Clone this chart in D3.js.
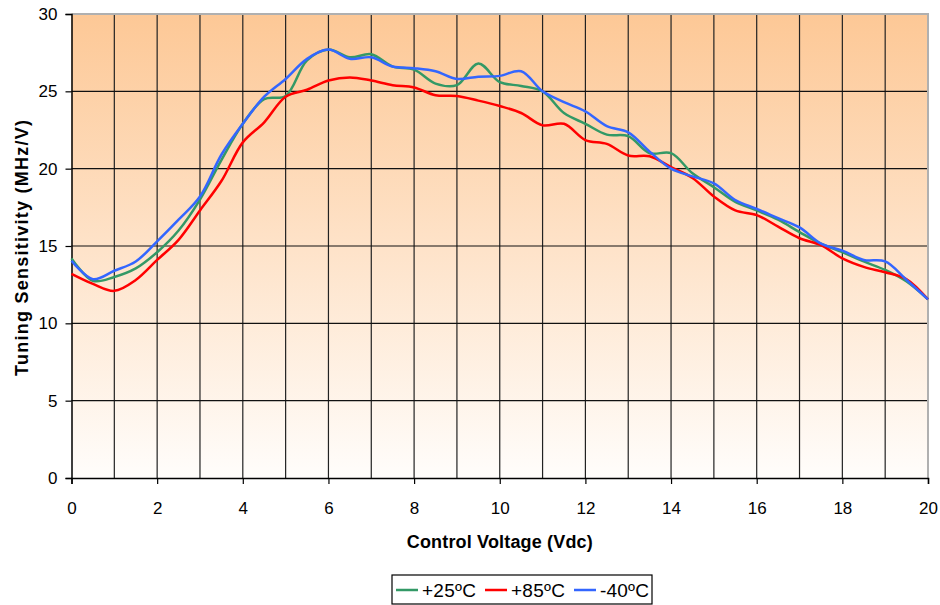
<!DOCTYPE html>
<html>
<head>
<meta charset="utf-8">
<script src="https://cdn.jsdelivr.net/npm/d3@7"></script>
<style>
  body { margin: 0; background: #fff; }
  svg { font-family: "Liberation Sans", Arial, sans-serif; }
</style>
</head>
<body>
<svg id="svg" width="940" height="605"></svg>
<script>
// control voltage (Vdc)
var voltage = [0, 0.5, 1, 1.5, 2, 2.5, 3, 3.5, 4, 4.5, 5, 5.5, 6, 6.5, 7, 7.5, 8, 8.5, 9, 9.5,
  10, 10.5, 11, 11.5, 12, 12.5, 13, 13.5, 14, 14.5, 15, 15.5, 16, 16.5, 17, 17.5, 18, 18.5, 19, 19.5, 20];

// tuning sensitivity (MHz/V) per temperature
var t25 = [14.2, 12.75, 13.0, 13.55, 14.6, 16.0, 18.0, 20.55, 22.9, 24.5, 24.7, 27.0, 27.7, 27.2, 27.4, 26.6, 26.4, 25.5, 25.4, 26.8,
  25.6, 25.35, 25.0, 23.6, 22.9, 22.2, 22.1, 21.0, 21.0, 19.7, 18.8, 17.85, 17.3, 16.7, 15.9, 15.15, 14.6, 14.0, 13.45, 12.7, 11.55];
var t85 = [13.2, 12.55, 12.1, 12.8, 14.1, 15.4, 17.3, 19.2, 21.7, 23.0, 24.65, 25.1, 25.7, 25.9, 25.7, 25.4, 25.25, 24.75, 24.7, 24.4,
  24.05, 23.6, 22.8, 22.9, 21.85, 21.6, 20.85, 20.8, 20.1, 19.4, 18.2, 17.3, 17.0, 16.25, 15.5, 15.05, 14.2, 13.65, 13.3, 12.85, 11.55];
var tm40 = [14.05, 12.85, 13.4, 14.0, 15.3, 16.7, 18.2, 20.9, 22.9, 24.65, 25.8, 27.1, 27.7, 27.1, 27.2, 26.6, 26.5, 26.3, 25.8, 25.95,
  26.0, 26.3, 25.0, 24.3, 23.7, 22.75, 22.35, 21.1, 20.0, 19.5, 19.05, 17.97, 17.4, 16.8, 16.2, 15.15, 14.7, 14.1, 14.0, 12.8, 11.55];

var seriesNames = ["+25ºC", "+85ºC", "-40ºC"];
var seriesColors = ["#339966", "#ff0000", "#3366ff"];
var xTicks = [0, 2, 4, 6, 8, 10, 12, 14, 16, 18, 20];
var yTicks = [0, 5, 10, 15, 20, 25, 30];

var svg = d3.select("#svg"),
  margin = {top: 14, right: 12, bottom: 127, left: 71.5},
  width = 940 - margin.left - margin.right,
  height = 605 - margin.top - margin.bottom;

var x = d3.scaleLinear().domain([0, 20]).range([0, width]);
var y = d3.scaleLinear().domain([0, 30]).range([height, 0]);

var defs = svg.append("defs");
var grad = defs.append("linearGradient")
  .attr("id", "bg")
  .attr("x1", 0).attr("y1", 0).attr("x2", 0).attr("y2", 1);
grad.append("stop").attr("offset", "0%").attr("stop-color", "#fdc896");
grad.append("stop").attr("offset", "100%").attr("stop-color", "#fffdfb");

var g = svg.append("g")
  .attr("transform", "translate(" + margin.left + "," + margin.top + ")");

g.append("rect")
  .attr("width", width)
  .attr("height", height)
  .attr("fill", "url(#bg)");

// grid
g.append("g")
  .selectAll("line")
  .data(d3.range(1, 20))
  .enter()
  .append("line")
  .attr("x1", function (d) { return x(d); })
  .attr("x2", function (d) { return x(d); })
  .attr("y1", 0)
  .attr("y2", height)
  .attr("stroke", "#222")
  .attr("stroke-width", 1.2);

g.append("g")
  .selectAll("line")
  .data([5, 10, 15, 20, 25])
  .enter()
  .append("line")
  .attr("x1", 0)
  .attr("x2", width)
  .attr("y1", function (d) { return y(d); })
  .attr("y2", function (d) { return y(d); })
  .attr("stroke", "#111")
  .attr("stroke-width", 1.2);

// top and right border
g.append("path")
  .attr("d", "M0,0H" + width + "V" + height)
  .attr("fill", "none")
  .attr("stroke", "#b0b0b0")
  .attr("stroke-width", 2);

// axes
var xAxis = g.append("g")
  .attr("transform", "translate(0," + height + ")")
  .call(d3.axisBottom(x).tickValues(xTicks).tickSize(6).tickPadding(18).tickFormat(d3.format("d")));
var yAxis = g.append("g")
  .call(d3.axisLeft(y).tickValues(yTicks).tickSize(6).tickPadding(8).tickFormat(d3.format("d")));

[xAxis, yAxis].forEach(function (a) {
  a.select(".domain").attr("stroke", "#000").attr("stroke-width", 1.5);
  a.selectAll(".tick line").attr("stroke", "#000").attr("stroke-width", 1.2);
  a.selectAll("text").attr("font-size", 17).attr("fill", "#000")
    .attr("font-family", "Liberation Sans, Arial, sans-serif");
});

// lines
var allSeries = [t25, t85, tm40];
var line = d3.line()
  .curve(d3.curveCatmullRom.alpha(0.5))
  .x(function (d, i) { return x(voltage[i]); })
  .y(function (d) { return y(d); });

g.selectAll(".series")
  .data(allSeries)
  .enter()
  .append("path")
  .attr("class", "series")
  .attr("d", function (d) { return line(d); })
  .attr("fill", "none")
  .attr("stroke", function (d, i) { return seriesColors[i]; })
  .attr("stroke-width", 2.5)
  .attr("stroke-linejoin", "round");

// axis titles
svg.append("text")
  .attr("x", margin.left + width / 2)
  .attr("y", 548)
  .attr("text-anchor", "middle")
  .attr("font-size", 18)
  .attr("font-weight", "bold")
  .attr("textLength", 186)
  .text("Control Voltage (Vdc)");

svg.append("text")
  .attr("transform", "translate(28,248) rotate(-90)")
  .attr("text-anchor", "middle")
  .attr("font-size", 18)
  .attr("font-weight", "bold")
  .attr("textLength", 256)
  .text("Tuning Sensitivity (MHz/V)");

// legend
var legend = svg.append("g").attr("transform", "translate(392,575)");
legend.append("rect")
  .attr("width", 260)
  .attr("height", 29)
  .attr("fill", "#fff")
  .attr("stroke", "#000")
  .attr("stroke-width", 1.2);

var legendX = [4, 93, 182];
var item = legend.selectAll(".item")
  .data(seriesNames)
  .enter()
  .append("g")
  .attr("class", "item")
  .attr("transform", function (d, i) { return "translate(" + legendX[i] + ",0)"; });

item.append("line")
  .attr("x1", 0).attr("x2", 22)
  .attr("y1", 15).attr("y2", 15)
  .attr("stroke", function (d, i) { return seriesColors[i]; })
  .attr("stroke-width", 2.5);

item.append("text")
  .attr("x", 26)
  .attr("y", 22)
  .attr("font-size", 19)
  .attr("textLength", function (d, i) { return i === 2 ? 49 : 54; })
  .text(function (d) { return d; });
</script>
</body>
</html>
